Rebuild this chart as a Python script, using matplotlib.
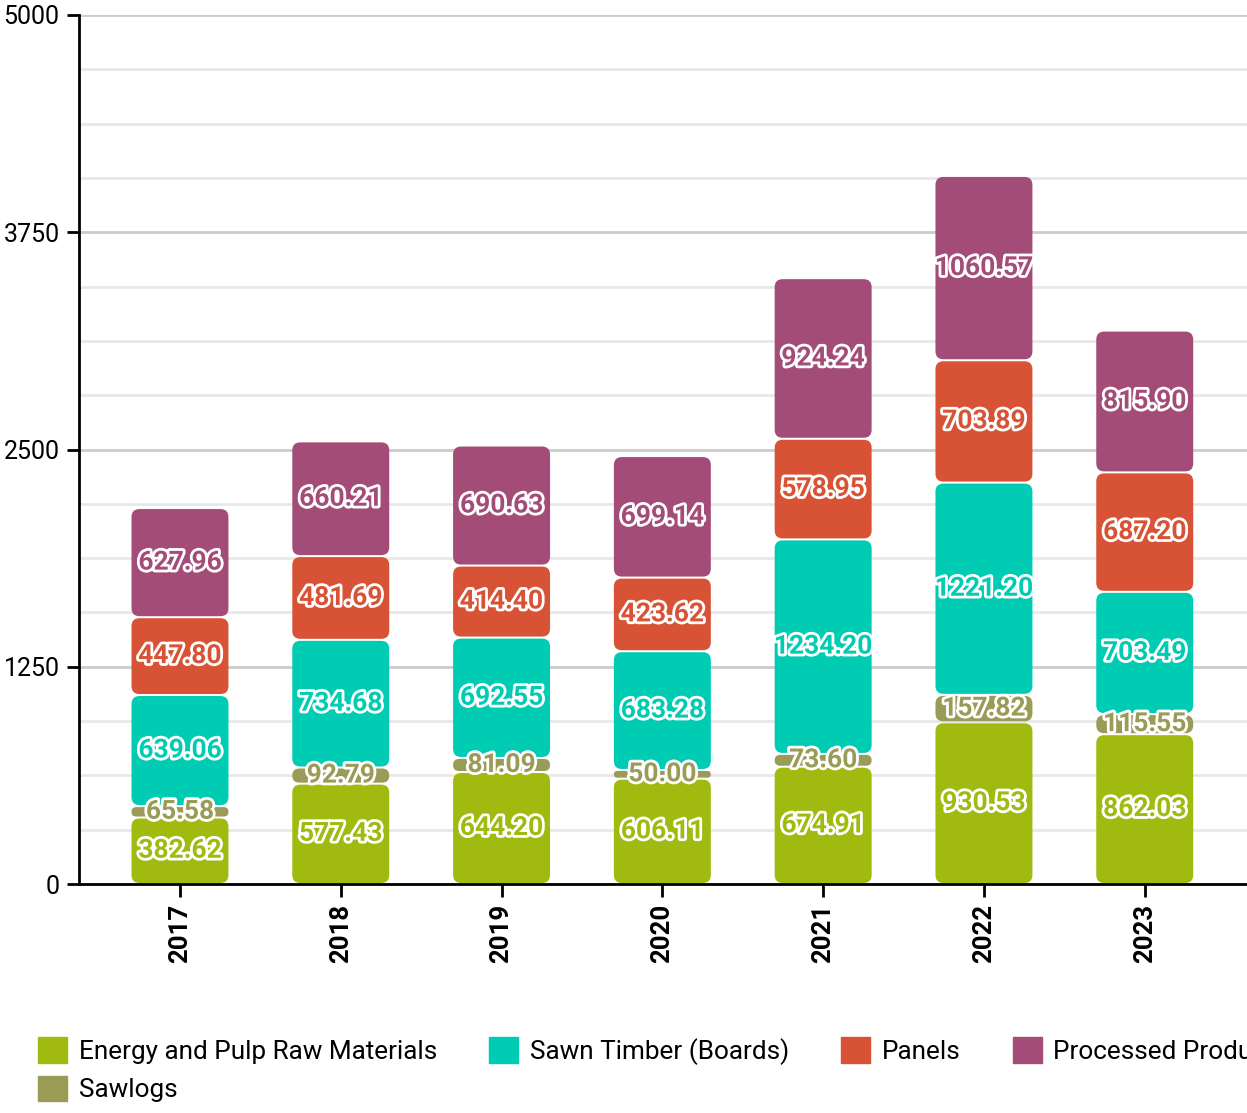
import matplotlib
matplotlib.use("Agg")
import matplotlib.pyplot as plt
import matplotlib.patheffects as pe
from matplotlib.patches import PathPatch
from matplotlib.path import Path
import numpy as np

plt.rcParams["font.family"] = ["Roboto", "DejaVu Sans"]

years = ["2017", "2018", "2019", "2020", "2021", "2022", "2023"]
series_names = [
    "Energy and Pulp Raw Materials",
    "Sawlogs",
    "Sawn Timber (Boards)",
    "Panels",
    "Processed Products",
]
energy = [382.62, 577.43, 644.20, 606.11, 674.91, 930.53, 862.03]
sawlogs = [65.58, 92.79, 81.09, 50.00, 73.60, 157.82, 115.55]
sawn = [639.06, 734.68, 692.55, 683.28, 1234.20, 1221.20, 703.49]
panels = [447.80, 481.69, 414.40, 423.62, 578.95, 703.89, 687.20]
processed = [627.96, 660.21, 690.63, 699.14, 924.24, 1060.57, 815.90]

colors = ["#A0BA10", "#999B56", "#00CCB3", "#D85335", "#A44C78"]

W, H, DPI = 1247, 1113, 100
fig = plt.figure(figsize=(W / DPI, H / DPI), dpi=DPI)
ax = fig.add_axes([79 / W, 1 - 884 / H, 1 - 79 / W, (884 - 15) / H])

xlim = (-0.628, 6.636)
ylim = (0, 5000)
ax.set_xlim(*xlim)
ax.set_ylim(*ylim)

# pixel scale, used for rounded corners
px_x = (xlim[1] - xlim[0]) / (W - 79)
px_y = (ylim[1] - ylim[0]) / (884 - 15)


def rounded_rect(x0, y0, w, h, r_px=8):
    rx = min(r_px * px_x, w / 2)
    ry = min(r_px * px_y, h / 2)
    r_pix = min(rx / px_x, ry / px_y)
    rx, ry = r_pix * px_x, r_pix * px_y
    x1, y1 = x0 + w, y0 + h
    verts = [
        (x0 + rx, y0), (x1 - rx, y0), (x1, y0), (x1, y0 + ry),
        (x1, y1 - ry), (x1, y1), (x1 - rx, y1),
        (x0 + rx, y1), (x0, y1), (x0, y1 - ry),
        (x0, y0 + ry), (x0, y0), (x0 + rx, y0),
        (x0 + rx, y0),
    ]
    codes = [
        Path.MOVETO, Path.LINETO, Path.CURVE3, Path.CURVE3,
        Path.LINETO, Path.CURVE3, Path.CURVE3,
        Path.LINETO, Path.CURVE3, Path.CURVE3,
        Path.LINETO, Path.CURVE3, Path.CURVE3,
        Path.CLOSEPOLY,
    ]
    return Path(verts, codes)


data = [energy, sawlogs, sawn, panels, processed]
x = np.arange(len(years))
bar_w = 0.603
gap = 1.0 * px_y

bottoms = np.zeros(len(years))
for si, vals in enumerate(data):
    for i, v in enumerate(vals):
        b = bottoms[i]
        path = rounded_rect(x[i] - bar_w / 2, b + gap, bar_w, v - 2 * gap)
        ax.add_patch(PathPatch(path, facecolor=colors[si], edgecolor="none", zorder=3))
        ax.text(
            x[i], b + v / 2, f"{v:.2f}",
            ha="center", va="center", fontsize=19, fontweight="bold",
            color=colors[si], zorder=5,
            path_effects=[pe.withStroke(linewidth=4, foreground="white")],
        )
    bottoms += np.array(vals)

# grid
ax.set_yticks([0, 1250, 2500, 3750, 5000])
ax.set_yticks(np.arange(312.5, 5000, 312.5), minor=True)
ax.yaxis.grid(True, which="major", color="#CCCCCC", linewidth=2, zorder=0)
ax.yaxis.grid(True, which="minor", color="#E8E8E8", linewidth=2, zorder=0)
ax.tick_params(axis="y", which="minor", length=0)
ax.set_axisbelow(True)

ax.set_xticks(x)
ax.set_xticklabels(years, rotation=90, fontsize=18.5, fontweight="bold")
ax.tick_params(axis="y", which="major", labelsize=18, length=9, width=2, pad=5)
ax.tick_params(axis="x", length=9, width=2, pad=5)

for s in ["top", "right"]:
    ax.spines[s].set_visible(False)
for s in ["left", "bottom"]:
    ax.spines[s].set_linewidth(2)
    ax.spines[s].set_color("black")

# legend fills column-wise: Energy/Sawlogs share the first column
handles = [plt.Rectangle((0, 0), 1, 1, color=c) for c in colors]
fig.legend(
    handles, series_names,
    loc="upper left", bbox_to_anchor=(28 / W, 1 - 1027 / H),
    ncol=4, frameon=False, fontsize=18.8,
    handlelength=1.1, handleheight=1.1, handletextpad=0.45,
    columnspacing=2.0, labelspacing=0.45, borderaxespad=0,
)

fig.savefig("out.png", dpi=DPI)
